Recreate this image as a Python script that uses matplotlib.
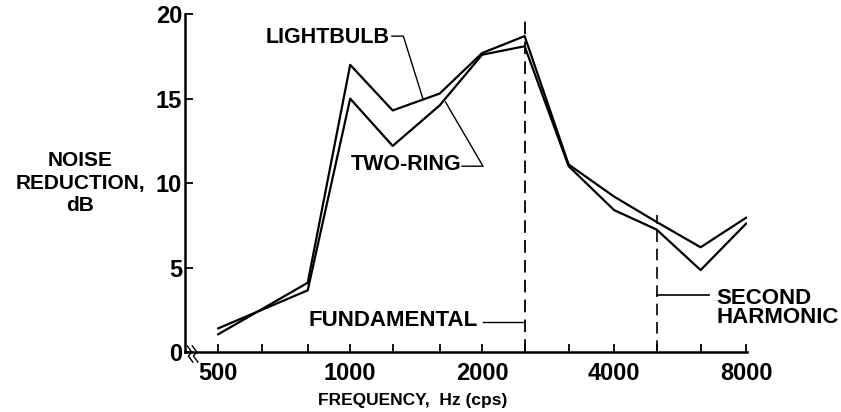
import numpy as np
import matplotlib.pyplot as plt

plt.rcParams['font.family'] = ['Liberation Sans', 'DejaVu Sans']
plt.rcParams['font.weight'] = 'bold'

# one-third octave band centres, Hz
freq = [500, 800, 1000, 1250, 1600, 2000, 2500, 3150, 4000, 5000, 6300, 8000]
lightbulb = [1.05, 4.1, 17.0, 14.3, 15.3, 17.7, 18.7, 11.1, 9.2, 7.7, 6.2, 7.95]
two_ring = [1.4, 3.65, 15.0, 12.2, 14.6, 17.6, 18.1, 11.0, 8.4, 7.25, 4.85, 7.6]

tick_freq = [500, 630, 800, 1000, 1250, 1600, 2000, 2500, 3150, 4000, 5000, 6300, 8000]
tick_labels = {500: '500', 1000: '1000', 2000: '2000', 4000: '4000', 8000: '8000'}
fundamental = 2500
second_harmonic = 5000

fig = plt.figure(figsize=(8.41, 4.12), dpi=100)
ax = fig.add_axes([0.22, 0.1456, 0.668, 0.82])

ax.plot(freq, lightbulb, color='black', lw=1.6)
ax.plot(freq, two_ring, color='black', lw=1.6)

ax.plot([fundamental, fundamental], [0, 19.8], color='black', lw=1.3, dashes=(7, 4))
ax.plot([second_harmonic, second_harmonic], [0, 8.1], color='black', lw=1.2, dashes=(7, 4))

ax.set_xscale('log')
ax.set_xlim(420, 8030)
ax.set_ylim(0, 20)

ax.set_xticks(tick_freq)
ax.set_xticklabels([tick_labels.get(f, '') for f in tick_freq])
ax.xaxis.set_minor_locator(plt.NullLocator())
ax.set_yticks([0, 5, 10, 15, 20])
ax.tick_params(axis='both', direction='in', length=6, width=1.3, labelsize=17)
ax.tick_params(axis='x', pad=7)
ax.tick_params(axis='y', pad=2)

for side in ['top', 'right']:
    ax.spines[side].set_visible(False)
for side in ['left', 'bottom']:
    ax.spines[side].set_linewidth(1.8)

ax.set_xlabel('FREQUENCY,  Hz (cps)', fontsize=12.5, fontweight='bold')
ax.xaxis.set_label_coords(0.406, -0.12)
ax.set_ylabel('NOISE\nREDUCTION,\ndB', fontsize=15, fontweight='bold',
              rotation=0, ha='center', va='center', linespacing=1.25)
ax.yaxis.set_label_coords(-0.187, 0.5)

# curve labels with leader lines
ax.text(1233, 18.6, 'LIGHTBULB', ha='right', va='center', fontsize=15.5)
ax.plot([1245, 1322, 1465], [18.7, 18.7, 15.0], color='black', lw=1.0)

ax.text(1790, 11.1, 'TWO-RING', ha='right', va='center', fontsize=15.5)
ax.plot([1800, 2009, 1650], [11.0, 11.0, 14.8], color='black', lw=1.0)

ax.text(1950, 1.85, 'FUNDAMENTAL', ha='right', va='center', fontsize=16)
ax.plot([2009, fundamental], [1.75, 1.75], color='black', lw=1.0)

ax.text(6850, 2.6, 'SECOND\nHARMONIC', ha='left', va='center', fontsize=16,
        linespacing=0.9)
ax.plot([second_harmonic, 6600], [3.4, 3.4], color='black', lw=1.2)

# axis break mark near the origin
for dx in (0.0, 0.009):
    ax.plot(np.array([0.004, 0.012, 0.006, 0.014]) + dx,
            [0.018, 0.0, -0.012, -0.03],
            transform=ax.transAxes, color='black', lw=1.0, clip_on=False)

fig.savefig('out.png', dpi=100)
